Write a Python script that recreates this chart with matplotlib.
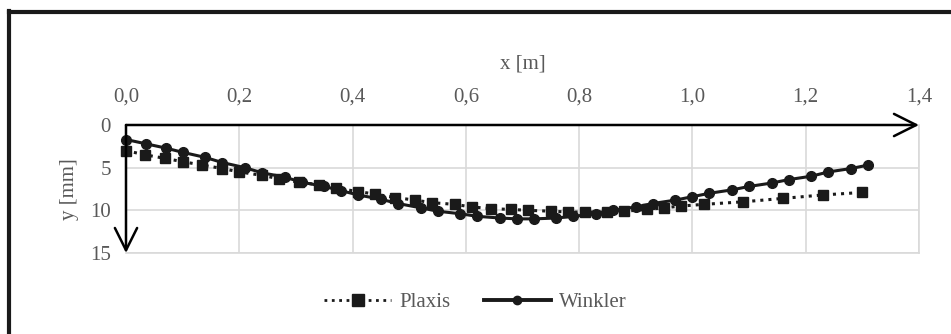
# Settlement profile: Plaxis vs Winkler
import matplotlib
matplotlib.use("Agg")
import matplotlib.pyplot as plt
from matplotlib.lines import Line2D

# Plaxis results
plaxis_x = [0.00, 0.034, 0.068, 0.10, 0.135, 0.17, 0.20, 0.24, 0.27, 0.305,
            0.34, 0.37, 0.41, 0.44, 0.475, 0.51, 0.54, 0.58, 0.61, 0.645,
            0.68, 0.71, 0.75, 0.78, 0.81, 0.85, 0.88, 0.92, 0.95, 0.98,
            1.02, 1.09, 1.16, 1.23, 1.30]
plaxis_y = [3.0, 3.5, 3.9, 4.3, 4.7, 5.1, 5.5, 5.9, 6.3, 6.7,
            7.0, 7.4, 7.8, 8.1, 8.5, 8.8, 9.1, 9.3, 9.6, 9.8,
            9.9, 10.0, 10.1, 10.2, 10.2, 10.2, 10.1, 9.9, 9.7, 9.5,
            9.3, 9.0, 8.6, 8.2, 7.9]

# Winkler results
winkler_x = [0.00, 0.035, 0.07, 0.10, 0.14, 0.17, 0.21, 0.24, 0.28, 0.31,
             0.35, 0.38, 0.41, 0.45, 0.48, 0.52, 0.55, 0.59, 0.62, 0.66,
             0.69, 0.72, 0.76, 0.79, 0.83, 0.86, 0.90, 0.93, 0.97, 1.00,
             1.03, 1.07, 1.10, 1.14, 1.17, 1.21, 1.24, 1.28, 1.31]
winkler_y = [1.7, 2.2, 2.7, 3.2, 3.8, 4.4, 5.0, 5.6, 6.1, 6.7,
             7.2, 7.7, 8.2, 8.7, 9.2, 9.7, 10.1, 10.4, 10.7, 10.9,
             11.0, 11.0, 10.9, 10.7, 10.4, 10.0, 9.6, 9.2, 8.8, 8.4,
             8.0, 7.6, 7.2, 6.8, 6.4, 6.0, 5.5, 5.1, 4.7]

x_ticks = [0.0, 0.2, 0.4, 0.6, 0.8, 1.0, 1.2, 1.4]
x_labels = ["0,0", "0,2", "0,4", "0,6", "0,8", "1,0", "1,2", "1,4"]
y_ticks = [0, 5, 10, 15]

plt.rcParams["font.family"] = ["Liberation Serif", "DejaVu Serif"]
gray = "#595959"
dark = "#1a1a1a"

fig = plt.figure(figsize=(9.51, 3.34), dpi=100)
ax = fig.add_axes([126 / 951, 1 - 253 / 334, 793 / 951, 128 / 334])

ax.plot(plaxis_x, plaxis_y, color=dark, linestyle=":", linewidth=2.2,
        marker="s", markersize=7, label="Plaxis", clip_on=False, zorder=3)
ax.plot(winkler_x, winkler_y, color=dark, linestyle="-", linewidth=2.2,
        marker="o", markersize=7, label="Winkler", clip_on=False, zorder=4)

ax.set_xlim(0, 1.4)
ax.set_ylim(15, 0)
ax.set_xticks(x_ticks)
ax.set_xticklabels(x_labels)
ax.set_yticks(y_ticks)
ax.xaxis.tick_top()
ax.xaxis.set_label_position("top")
ax.tick_params(length=0, labelsize=15, colors=gray)
ax.tick_params(axis="x", pad=13)
ax.tick_params(axis="y", pad=11)
ax.grid(True, color="#d9d9d9", linewidth=1.2)
ax.set_axisbelow(True)

for side in ["top", "left"]:
    ax.spines[side].set_visible(False)
for side in ["right", "bottom"]:
    ax.spines[side].set_color("#d9d9d9")
    ax.spines[side].set_linewidth(1.2)

# axis arrows
arrow = dict(arrowstyle="->,head_length=0.8,head_width=0.4", lw=1.8,
             color="black", shrinkA=0, shrinkB=0, mutation_scale=20)
ax.annotate("", xy=(1.4, 0), xytext=(0, 0), arrowprops=arrow,
            annotation_clip=False, zorder=5)
ax.annotate("", xy=(0, 15), xytext=(0, 0), arrowprops=arrow,
            annotation_clip=False, zorder=5)

ax.set_xlabel("x [m]", fontsize=15, color=gray, labelpad=14)
ax.set_ylabel("y [mm]", fontsize=15, color=gray, labelpad=8)

handles = [
    Line2D([], [], color=dark, linestyle=":", linewidth=2, marker="s", markersize=8),
    Line2D([], [], color=dark, linestyle="-", linewidth=2.8, marker="o", markersize=6),
]
fig.legend(handles, ["Plaxis", "Winkler"], loc="center", bbox_to_anchor=(0.5, 1 - 302 / 334),
           ncol=2, frameon=False, fontsize=15, labelcolor=gray, handlelength=3.2,
           columnspacing=1.6, handletextpad=0.4)

# outer frame (top and left edges)
fig.add_artist(Line2D([9 / 951, 9 / 951], [0, 1 - 11 / 334], transform=fig.transFigure,
                      color=dark, linewidth=3))
fig.add_artist(Line2D([9 / 951, 1], [1 - 12 / 334, 1 - 12 / 334], transform=fig.transFigure,
                      color=dark, linewidth=3))

fig.savefig("out.png", dpi=100)
